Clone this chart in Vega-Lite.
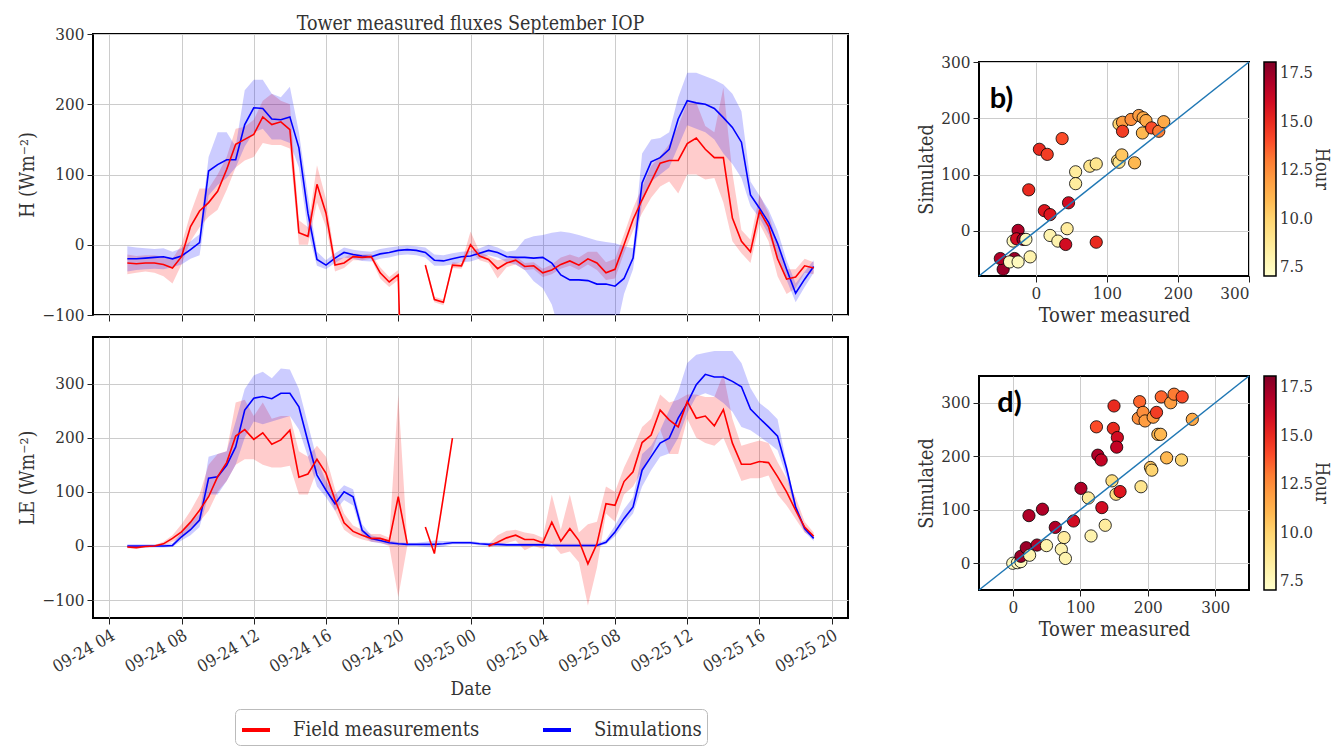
{
"$schema": "https://vega.github.io/schema/vega-lite/v6.json",
"background": "white",
"padding": {"left": 16, "top": 12, "right": 0, "bottom": 0},
"config": {
  "font": "DejaVu Serif Condensed, Liberation Serif, serif",
  "view": {"stroke": "black", "strokeWidth": 2},
  "axis": {"domain": false, "grid": true, "gridColor": "#cccccc", "gridWidth": 1, "tickColor": "#222222", "tickSize": 6, "labelColor": "#333333", "titleColor": "#333333", "labelFontSize": 17, "titleFontSize": 20, "titleFontWeight": "normal", "labelPadding": 3},
  "legend": {"layout": {"bottom": {"anchor": "middle"}}}
},
"datasets": {
"ts": [
{"t":"2020-09-24T05:00","Ho":-26,"Hol":-42,"Hoh":-14,"Hs":-20,"Hsl":-38,"Hsh":-2,"Lo":-2,"Lol":-4,"Loh":0,"Ls":0,"Lsl":-3,"Lsh":3},
{"t":"2020-09-24T05:30","Ho":-27,"Hol":-40,"Hoh":-16,"Hs":-20,"Hsl":-36,"Hsh":-4,"Lo":-3,"Lol":-5,"Loh":-1,"Ls":0,"Lsl":-3,"Lsh":3},
{"t":"2020-09-24T06:00","Ho":-26,"Hol":-38,"Hoh":-15,"Hs":-19,"Hsl":-35,"Hsh":-5,"Lo":-1,"Lol":-3,"Loh":1,"Ls":0,"Lsl":-3,"Lsh":3},
{"t":"2020-09-24T06:30","Ho":-26,"Hol":-40,"Hoh":-15,"Hs":-18,"Hsl":-34,"Hsh":-6,"Lo":0,"Lol":-2,"Loh":2,"Ls":0,"Lsl":-3,"Lsh":3},
{"t":"2020-09-24T07:00","Ho":-28,"Hol":-45,"Hoh":-17,"Hs":-17,"Hsl":-35,"Hsh":-5,"Lo":4,"Lol":1,"Loh":8,"Ls":0,"Lsl":-3,"Lsh":3},
{"t":"2020-09-24T07:30","Ho":-33,"Hol":-55,"Hoh":-20,"Hs":-20,"Hsl":-32,"Hsh":-10,"Lo":14,"Lol":8,"Loh":20,"Ls":1,"Lsl":-2,"Lsh":5},
{"t":"2020-09-24T08:00","Ho":-17,"Hol":-28,"Hoh":0,"Hs":-16,"Hsl":-28,"Hsh":-5,"Lo":26,"Lol":15,"Loh":40,"Ls":17,"Lsl":10,"Lsh":25},
{"t":"2020-09-24T08:30","Ho":26,"Hol":5,"Hoh":45,"Hs":-7,"Hsl":-20,"Hsh":5,"Lo":44,"Lol":30,"Loh":65,"Ls":30,"Lsl":20,"Lsh":45},
{"t":"2020-09-24T09:00","Ho":48,"Hol":25,"Hoh":80,"Hs":3,"Hsl":-15,"Hsh":15,"Lo":66,"Lol":45,"Loh":95,"Ls":48,"Lsl":35,"Lsh":60},
{"t":"2020-09-24T09:30","Ho":60,"Hol":40,"Hoh":80,"Hs":105,"Hsl":70,"Hsh":125,"Lo":91,"Lol":65,"Loh":150,"Ls":125,"Lsl":95,"Lsh":165},
{"t":"2020-09-24T10:00","Ho":76,"Hol":50,"Hoh":100,"Hs":114,"Hsl":85,"Hsh":160,"Lo":128,"Lol":100,"Loh":170,"Ls":128,"Lsl":95,"Lsh":170},
{"t":"2020-09-24T10:30","Ho":107,"Hol":78,"Hoh":125,"Hs":121,"Hsl":95,"Hsh":160,"Lo":154,"Lol":120,"Loh":175,"Ls":149,"Lsl":120,"Lsh":175},
{"t":"2020-09-24T11:00","Ho":143,"Hol":110,"Hoh":165,"Hs":121,"Hsl":110,"Hsh":140,"Lo":203,"Lol":150,"Loh":265,"Ls":183,"Lsl":150,"Lsh":230},
{"t":"2020-09-24T11:30","Ho":150,"Hol":120,"Hoh":168,"Hs":171,"Hsl":140,"Hsh":220,"Lo":215,"Lol":160,"Loh":270,"Ls":251,"Lsl":200,"Lsh":290},
{"t":"2020-09-24T12:00","Ho":157,"Hol":125,"Hoh":178,"Hs":195,"Hsl":160,"Hsh":235,"Lo":197,"Lol":160,"Loh":240,"Ls":273,"Lsl":230,"Lsh":315},
{"t":"2020-09-24T12:30","Ho":182,"Hol":145,"Hoh":205,"Hs":194,"Hsl":165,"Hsh":235,"Lo":209,"Lol":150,"Loh":265,"Ls":276,"Lsl":225,"Lsh":322},
{"t":"2020-09-24T13:00","Ho":171,"Hol":142,"Hoh":215,"Hs":179,"Hsl":150,"Hsh":215,"Lo":188,"Lol":145,"Loh":235,"Ls":272,"Lsl":230,"Lsh":310},
{"t":"2020-09-24T13:30","Ho":175,"Hol":142,"Hoh":205,"Hs":178,"Hsl":150,"Hsh":210,"Lo":196,"Lol":145,"Loh":240,"Ls":282,"Lsl":235,"Lsh":328},
{"t":"2020-09-24T14:00","Ho":164,"Hol":137,"Hoh":200,"Hs":182,"Hsl":145,"Hsh":225,"Lo":214,"Lol":148,"Loh":240,"Ls":282,"Lsl":240,"Lsh":326},
{"t":"2020-09-24T14:30","Ho":17,"Hol":0,"Hoh":35,"Hs":138,"Hsl":110,"Hsh":160,"Lo":127,"Lol":95,"Loh":175,"Ls":257,"Lsl":215,"Lsh":290},
{"t":"2020-09-24T15:00","Ho":12,"Hol":0,"Hoh":25,"Hs":45,"Hsl":20,"Hsh":70,"Lo":133,"Lol":95,"Loh":165,"Ls":193,"Lsl":165,"Lsh":225},
{"t":"2020-09-24T15:30","Ho":86,"Hol":60,"Hoh":113,"Hs":-21,"Hsl":-30,"Hsh":-10,"Lo":160,"Lol":140,"Loh":185,"Ls":131,"Lsl":110,"Lsh":160},
{"t":"2020-09-24T16:00","Ho":45,"Hol":25,"Hoh":65,"Hs":-29,"Hsl":-35,"Hsh":-22,"Lo":134,"Lol":105,"Loh":165,"Ls":103,"Lsl":90,"Lsh":120},
{"t":"2020-09-24T16:30","Ho":-29,"Hol":-38,"Hoh":-20,"Hs":-19,"Hsl":-26,"Hsh":-12,"Lo":85,"Lol":65,"Loh":105,"Ls":78,"Lsl":65,"Lsh":95},
{"t":"2020-09-24T17:00","Ho":-26,"Hol":-33,"Hoh":-18,"Hs":-11,"Hsl":-18,"Hsh":-4,"Lo":43,"Lol":30,"Loh":60,"Ls":100,"Lsl":85,"Lsh":112},
{"t":"2020-09-24T17:30","Ho":-17,"Hol":-22,"Hoh":-12,"Hs":-14,"Hsl":-20,"Hsh":-7,"Lo":27,"Lol":18,"Loh":38,"Ls":91,"Lsl":75,"Lsh":105},
{"t":"2020-09-24T18:00","Ho":-18,"Hol":-22,"Hoh":-14,"Hs":-16,"Hsl":-23,"Hsh":-9,"Lo":20,"Lol":12,"Loh":30,"Ls":29,"Lsl":20,"Lsh":40},
{"t":"2020-09-24T18:30","Ho":-17,"Hol":-20,"Hoh":-13,"Hs":-17,"Hsl":-24,"Hsh":-10,"Lo":14,"Lol":8,"Loh":22,"Ls":14,"Lsl":8,"Lsh":20},
{"t":"2020-09-24T19:00","Ho":-40,"Hol":-48,"Hoh":-32,"Hs":-13,"Hsl":-20,"Hsh":-6,"Lo":14,"Lol":6,"Loh":22,"Ls":10,"Lsl":5,"Lsh":15},
{"t":"2020-09-24T19:30","Ho":-53,"Hol":-60,"Hoh":-46,"Hs":-11,"Hsl":-18,"Hsh":-4,"Lo":9,"Lol":0,"Loh":15,"Ls":6,"Lsl":2,"Lsh":10},
{"t":"2020-09-24T20:00","Ho":-43,"Hol":-50,"Hoh":-36,"Hs":-8,"Hsl":-15,"Hsh":-2,"Lo":91,"Lol":-94,"Loh":279,"Ls":4,"Lsl":1,"Lsh":7},
{"t":"2020-09-24T20:30","Ho":-513,"Hol":null,"Hoh":null,"Hs":-7,"Hsl":-14,"Hsh":-1,"Lo":4,"Lol":0,"Loh":8,"Ls":3,"Lsl":0,"Lsh":6},
{"t":"2020-09-24T21:00","Ho":null,"Hol":null,"Hoh":null,"Hs":-8,"Hsl":-15,"Hsh":-2,"Lo":null,"Lol":null,"Loh":null,"Ls":3,"Lsl":0,"Lsh":6},
{"t":"2020-09-24T21:30","Ho":-29,"Hol":-33,"Hoh":-25,"Hs":-11,"Hsl":-18,"Hsh":-4,"Lo":35,"Lol":null,"Loh":null,"Ls":3,"Lsl":-2,"Lsh":8},
{"t":"2020-09-24T22:00","Ho":-78,"Hol":-82,"Hoh":-74,"Hs":-22,"Hsl":-30,"Hsh":-14,"Lo":-14,"Lol":null,"Loh":null,"Ls":3,"Lsl":-3,"Lsh":10},
{"t":"2020-09-24T22:30","Ho":-82,"Hol":-86,"Hoh":-78,"Hs":-23,"Hsl":-30,"Hsh":-15,"Lo":91,"Lol":null,"Loh":null,"Ls":4,"Lsl":-1,"Lsh":9},
{"t":"2020-09-24T23:00","Ho":-29,"Hol":-33,"Hoh":-25,"Hs":-20,"Hsl":-28,"Hsh":-12,"Lo":199,"Lol":null,"Loh":null,"Ls":6,"Lsl":3,"Lsh":9},
{"t":"2020-09-24T23:30","Ho":-30,"Hol":-34,"Hoh":-26,"Hs":-17,"Hsl":-25,"Hsh":-10,"Lo":null,"Lol":null,"Loh":null,"Ls":6,"Lsl":3,"Lsh":9},
{"t":"2020-09-25T00:00","Ho":0,"Hol":-8,"Hoh":19,"Hs":-16,"Hsl":-24,"Hsh":-9,"Lo":null,"Lol":null,"Loh":null,"Ls":6,"Lsl":3,"Lsh":9},
{"t":"2020-09-25T00:30","Ho":-16,"Hol":-22,"Hoh":-10,"Hs":-12,"Hsl":-20,"Hsh":-5,"Lo":null,"Lol":null,"Loh":null,"Ls":4,"Lsl":1,"Lsh":7},
{"t":"2020-09-25T01:00","Ho":-21,"Hol":-26,"Hoh":-16,"Hs":-8,"Hsl":-15,"Hsh":0,"Lo":0,"Lol":-3,"Loh":3,"Ls":3,"Lsl":0,"Lsh":6},
{"t":"2020-09-25T01:30","Ho":-34,"Hol":-48,"Hoh":-22,"Hs":-11,"Hsl":-18,"Hsh":-4,"Lo":7,"Lol":2,"Loh":20,"Ls":3,"Lsl":0,"Lsh":6},
{"t":"2020-09-25T02:00","Ho":-26,"Hol":-32,"Hoh":-20,"Hs":-17,"Hsl":-25,"Hsh":-10,"Lo":15,"Lol":5,"Loh":28,"Ls":2,"Lsl":0,"Lsh":5},
{"t":"2020-09-25T02:30","Ho":-22,"Hol":-28,"Hoh":-16,"Hs":-18,"Hsl":-28,"Hsh":-8,"Lo":20,"Lol":10,"Loh":30,"Ls":2,"Lsl":0,"Lsh":5},
{"t":"2020-09-25T03:00","Ho":-31,"Hol":-36,"Hoh":-26,"Hs":-18,"Hsl":-36,"Hsh":8,"Lo":12,"Lol":-8,"Loh":25,"Ls":2,"Lsl":0,"Lsh":5},
{"t":"2020-09-25T03:30","Ho":-30,"Hol":-35,"Hoh":-25,"Hs":-19,"Hsl":-52,"Hsh":12,"Lo":12,"Lol":0,"Loh":22,"Ls":2,"Lsl":0,"Lsh":5},
{"t":"2020-09-25T04:00","Ho":-40,"Hol":-46,"Hoh":-34,"Hs":-18,"Hsl":-62,"Hsh":14,"Lo":6,"Lol":-5,"Loh":15,"Ls":2,"Lsl":0,"Lsh":5},
{"t":"2020-09-25T04:30","Ho":-36,"Hol":-42,"Hoh":-28,"Hs":-26,"Hsl":-85,"Hsh":17,"Lo":44,"Lol":5,"Loh":95,"Ls":1,"Lsl":-1,"Lsh":4},
{"t":"2020-09-25T05:00","Ho":-28,"Hol":-34,"Hoh":-18,"Hs":-43,"Hsl":-130,"Hsh":19,"Lo":9,"Lol":-15,"Loh":30,"Ls":1,"Lsl":-1,"Lsh":4},
{"t":"2020-09-25T05:30","Ho":-23,"Hol":-30,"Hoh":-14,"Hs":-50,"Hsl":-150,"Hsh":17,"Lo":32,"Lol":-10,"Loh":95,"Ls":1,"Lsl":-1,"Lsh":4},
{"t":"2020-09-25T06:00","Ho":-29,"Hol":-36,"Hoh":-18,"Hs":-50,"Hsl":-150,"Hsh":14,"Lo":10,"Lol":-30,"Loh":25,"Ls":1,"Lsl":-1,"Lsh":4},
{"t":"2020-09-25T06:30","Ho":-20,"Hol":-28,"Hoh":-10,"Hs":-51,"Hsl":-150,"Hsh":10,"Lo":-33,"Lol":-110,"Loh":40,"Ls":1,"Lsl":-1,"Lsh":4},
{"t":"2020-09-25T07:00","Ho":-26,"Hol":-36,"Hoh":-10,"Hs":-56,"Hsl":-145,"Hsh":6,"Lo":4,"Lol":-40,"Loh":45,"Ls":1,"Lsl":-1,"Lsh":4},
{"t":"2020-09-25T07:30","Ho":-40,"Hol":-50,"Hoh":-25,"Hs":-56,"Hsl":-140,"Hsh":4,"Lo":78,"Lol":60,"Loh":110,"Ls":7,"Lsl":3,"Lsh":12},
{"t":"2020-09-25T08:00","Ho":-35,"Hol":-48,"Hoh":-20,"Hs":-59,"Hsl":-130,"Hsh":2,"Lo":75,"Lol":45,"Loh":100,"Ls":26,"Lsl":18,"Lsh":38},
{"t":"2020-09-25T08:30","Ho":0,"Hol":-12,"Hoh":15,"Hs":-48,"Hsl":-70,"Hsh":-2,"Lo":119,"Lol":95,"Loh":145,"Ls":51,"Lsl":40,"Lsh":68},
{"t":"2020-09-25T09:00","Ho":36,"Hol":20,"Hoh":52,"Hs":-19,"Hsl":-35,"Hsh":-5,"Lo":137,"Lol":110,"Loh":180,"Ls":72,"Lsl":60,"Lsh":90},
{"t":"2020-09-25T09:30","Ho":64,"Hol":45,"Hoh":82,"Hs":88,"Hsl":60,"Hsh":130,"Lo":191,"Lol":140,"Loh":220,"Ls":140,"Lsl":110,"Lsh":170},
{"t":"2020-09-25T10:00","Ho":90,"Hol":67,"Hoh":112,"Hs":118,"Hsl":90,"Hsh":150,"Lo":205,"Lol":170,"Loh":235,"Ls":165,"Lsl":140,"Lsh":185},
{"t":"2020-09-25T10:30","Ho":116,"Hol":83,"Hoh":126,"Hs":124,"Hsl":100,"Hsh":152,"Lo":251,"Lol":215,"Loh":280,"Ls":190,"Lsl":165,"Lsh":214},
{"t":"2020-09-25T11:00","Ho":120,"Hol":90,"Hoh":143,"Hs":136,"Hsl":110,"Hsh":160,"Lo":233,"Lol":170,"Loh":265,"Ls":199,"Lsl":171,"Lsh":251},
{"t":"2020-09-25T11:30","Ho":120,"Hol":73,"Hoh":169,"Hs":179,"Hsl":140,"Hsh":210,"Lo":220,"Lol":170,"Loh":270,"Ls":236,"Lsl":200,"Lsh":285},
{"t":"2020-09-25T12:00","Ho":144,"Hol":100,"Hoh":202,"Hs":205,"Hsl":170,"Hsh":245,"Lo":267,"Lol":235,"Loh":280,"Ls":264,"Lsl":245,"Lsh":338},
{"t":"2020-09-25T12:30","Ho":152,"Hol":100,"Hoh":202,"Hs":202,"Hsl":165,"Hsh":245,"Lo":236,"Lol":200,"Loh":280,"Ls":298,"Lsl":276,"Lsh":353},
{"t":"2020-09-25T13:00","Ho":136,"Hol":93,"Hoh":169,"Hs":200,"Hsl":160,"Hsh":240,"Lo":240,"Lol":190,"Loh":275,"Ls":317,"Lsl":282,"Lsh":357},
{"t":"2020-09-25T13:30","Ho":124,"Hol":95,"Hoh":160,"Hs":194,"Hsl":150,"Hsh":235,"Lo":222,"Lol":185,"Loh":275,"Ls":312,"Lsl":276,"Lsh":360},
{"t":"2020-09-25T14:00","Ho":124,"Hol":60,"Hoh":224,"Hs":181,"Hsl":130,"Hsh":228,"Lo":252,"Lol":200,"Loh":318,"Ls":312,"Lsl":264,"Lsh":360},
{"t":"2020-09-25T14:30","Ho":38,"Hol":5,"Hoh":102,"Hs":167,"Hsl":115,"Hsh":215,"Lo":190,"Lol":160,"Loh":235,"Ls":304,"Lsl":248,"Lsh":360},
{"t":"2020-09-25T15:00","Ho":5,"Hol":-12,"Hoh":21,"Hs":146,"Hsl":95,"Hsh":190,"Lo":151,"Lol":120,"Loh":185,"Ls":294,"Lsl":220,"Lsh":338},
{"t":"2020-09-25T15:30","Ho":-10,"Hol":-26,"Hoh":7,"Hs":71,"Hsl":55,"Hsh":90,"Lo":151,"Lol":125,"Loh":190,"Ls":253,"Lsl":214,"Lsh":292},
{"t":"2020-09-25T16:00","Ho":48,"Hol":30,"Hoh":71,"Hs":52,"Hsl":38,"Hsh":70,"Lo":156,"Lol":125,"Loh":195,"Ls":236,"Lsl":202,"Lsh":264},
{"t":"2020-09-25T16:30","Ho":26,"Hol":5,"Hoh":45,"Hs":32,"Hsl":15,"Hsh":50,"Lo":154,"Lol":130,"Loh":190,"Ls":220,"Lsl":190,"Lsh":251},
{"t":"2020-09-25T17:00","Ho":-20,"Hol":-45,"Hoh":0,"Hs":2,"Hsl":-20,"Hsh":20,"Lo":128,"Lol":95,"Loh":155,"Ls":203,"Lsl":177,"Lsh":234},
{"t":"2020-09-25T17:30","Ho":-49,"Hol":-70,"Hoh":-35,"Hs":-35,"Hsl":-50,"Hsh":-22,"Lo":100,"Lol":75,"Loh":125,"Ls":143,"Lsl":128,"Lsh":152},
{"t":"2020-09-25T18:00","Ho":-46,"Hol":-62,"Hoh":-35,"Hs":-69,"Hsl":-82,"Hsh":-55,"Lo":66,"Lol":50,"Loh":90,"Ls":72,"Lsl":63,"Lsh":78},
{"t":"2020-09-25T18:30","Ho":-30,"Hol":-40,"Hoh":-20,"Hs":-49,"Hsl":-60,"Hsh":-38,"Lo":35,"Lol":25,"Loh":45,"Ls":32,"Lsl":26,"Lsh":35},
{"t":"2020-09-25T19:00","Ho":-33,"Hol":-42,"Hoh":-25,"Hs":-31,"Hsl":-40,"Hsh":-22,"Lo":18,"Lol":15,"Loh":25,"Ls":14,"Lsl":9,"Lsh":17}
],
"hb": [
{"x":-46,"y":-68,"h":17.5},{"x":-50,"y":-49,"h":17},{"x":-30,"y":-49,"h":17.5},{"x":-37,"y":-55,"h":7.5},{"x":-25,"y":-55,"h":7.5},
{"x":-32,"y":-18,"h":7.5},{"x":-25,"y":1,"h":17},{"x":-27,"y":-14,"h":16},{"x":-18,"y":-15,"h":17.5},{"x":-14,"y":-15,"h":7.5},
{"x":-8,"y":-46,"h":8},{"x":-10,"y":73,"h":15},{"x":5,"y":145,"h":15},{"x":16,"y":136,"h":14.5},{"x":37,"y":164,"h":14},
{"x":12,"y":36,"h":15.5},{"x":20,"y":29,"h":15.5},{"x":46,"y":50,"h":16},{"x":20,"y":-8,"h":8},{"x":31,"y":-18,"h":8},
{"x":44,"y":4,"h":8.5},{"x":42,"y":-24,"h":16},{"x":85,"y":-20,"h":15},{"x":56,"y":105,"h":8.5},{"x":56,"y":84,"h":8.5},
{"x":76,"y":115,"h":9},{"x":85,"y":119,"h":9},{"x":115,"y":125,"h":9.5},{"x":117,"y":122,"h":9},{"x":121,"y":135,"h":10.5},
{"x":139,"y":121,"h":11},{"x":117,"y":190,"h":10},{"x":122,"y":193,"h":12},{"x":122,"y":177,"h":14.5},{"x":134,"y":198,"h":12.5},
{"x":145,"y":205,"h":12},{"x":151,"y":201,"h":11.5},{"x":155,"y":196,"h":11.5},{"x":150,"y":174,"h":11},{"x":163,"y":183,"h":14},
{"x":173,"y":177,"h":13},{"x":180,"y":194,"h":11.5}
],
"led": [
{"x":0,"y":0,"h":7.5},{"x":7,"y":1,"h":7.5},{"x":12,"y":3,"h":7.5},{"x":12,"y":13,"h":17.5},{"x":20,"y":29,"h":17.5},
{"x":25,"y":15,"h":8},{"x":24,"y":89,"h":17},{"x":36,"y":34,"h":17},{"x":50,"y":33,"h":8},{"x":44,"y":101,"h":17},
{"x":63,"y":67,"h":17},{"x":76,"y":48,"h":8.5},{"x":72,"y":26,"h":8},{"x":78,"y":9,"h":8},{"x":90,"y":79,"h":16},
{"x":101,"y":140,"h":17},{"x":112,"y":122,"h":8.5},{"x":116,"y":51,"h":8},{"x":132,"y":104,"h":16},{"x":137,"y":71,"h":8.5},
{"x":124,"y":255,"h":14},{"x":126,"y":202,"h":17},{"x":131,"y":193,"h":16.5},{"x":147,"y":154,"h":9.5},{"x":150,"y":294,"h":15},
{"x":149,"y":252,"h":15},{"x":155,"y":235,"h":16},{"x":154,"y":217,"h":16.5},{"x":153,"y":129,"h":9.5},{"x":159,"y":134,"h":15.5},
{"x":190,"y":143,"h":9},{"x":188,"y":302,"h":13.5},{"x":186,"y":271,"h":12.5},{"x":193,"y":282,"h":12.5},{"x":196,"y":266,"h":12},
{"x":204,"y":179,"h":10.5},{"x":206,"y":174,"h":10},{"x":208,"y":273,"h":12},{"x":213,"y":282,"h":14.5},{"x":215,"y":241,"h":11},
{"x":219,"y":241,"h":11},{"x":220,"y":311,"h":13.5},{"x":228,"y":197,"h":11},{"x":234,"y":300,"h":12},{"x":239,"y":316,"h":13},
{"x":250,"y":193,"h":10},{"x":251,"y":311,"h":14},{"x":266,"y":269,"h":11.5}
]
},
"hconcat": [
{
 "vconcat": [
  {
   "width": 755, "height": 281,
   "title": {"text": "Tower measured fluxes September IOP", "fontSize": 19.5, "fontWeight": "normal", "offset": -9, "frame": "group", "anchor": "middle", "color": "#333333"},
   "data": {"name": "ts"},
   "encoding": {"x": {"field": "t", "type": "temporal", "scale": {"domain": [{"year":2020,"month":9,"date":24,"hours":3,"minutes":6},{"year":2020,"month":9,"date":25,"hours":20,"minutes":54}]}, "axis": {"values": [{"year":2020,"month":9,"date":24,"hours":4},{"year":2020,"month":9,"date":24,"hours":8},{"year":2020,"month":9,"date":24,"hours":12},{"year":2020,"month":9,"date":24,"hours":16},{"year":2020,"month":9,"date":24,"hours":20},{"year":2020,"month":9,"date":25,"hours":0},{"year":2020,"month":9,"date":25,"hours":4},{"year":2020,"month":9,"date":25,"hours":8},{"year":2020,"month":9,"date":25,"hours":12},{"year":2020,"month":9,"date":25,"hours":16},{"year":2020,"month":9,"date":25,"hours":20}], "labels": false, "title": null}}},
   "layer": [
    {"mark": {"type": "area", "color": "red", "opacity": 0.2, "clip": true, "invalid": "break-paths-show-domains"},
     "encoding": {"y": {"field": "Hol", "type": "quantitative", "scale": {"domain": [-100, 300], "nice": false}, "axis": {"values": [-100, 0, 100, 200, 300], "title": "H (Wm⁻²)", "titleFontSize": 19.5}}, "y2": {"field": "Hoh"}}},
    {"mark": {"type": "area", "color": "blue", "opacity": 0.2, "clip": true, "invalid": "break-paths-show-domains"},
     "encoding": {"y": {"field": "Hsl", "type": "quantitative"}, "y2": {"field": "Hsh"}}},
    {"mark": {"type": "line", "strokeWidth": 1.6, "clip": true, "invalid": "break-paths-show-domains"},
     "encoding": {"y": {"field": "Hs", "type": "quantitative"}, "color": {"datum": "Simulations", "type": "nominal", "scale": {"domain": ["Field measurements", "Simulations"], "range": ["#ff0000", "#0000ff"]}, "legend": null}}},
    {"mark": {"type": "line", "strokeWidth": 1.6, "clip": true, "invalid": "break-paths-show-domains"},
     "encoding": {"y": {"field": "Ho", "type": "quantitative"}, "color": {"datum": "Field measurements", "type": "nominal"}}},
    {"data": {"values": [{}]}, "mark": {"type": "text", "text": "a)", "font": "Lato", "fontWeight": "bold", "fontSize": 29, "align": "left", "baseline": "middle", "color": "black"},
     "encoding": {"x": {"datum": {"year":2020,"month":9,"date":24,"hours":5,"minutes":4}, "type": "temporal"}, "y": {"datum": 244, "type": "quantitative"}}}
   ]
  },
  {
   "width": 755, "height": 281,
   "data": {"name": "ts"},
   "encoding": {"x": {"field": "t", "type": "temporal", "scale": {"domain": [{"year":2020,"month":9,"date":24,"hours":3,"minutes":6},{"year":2020,"month":9,"date":25,"hours":20,"minutes":54}]}, "axis": {"values": [{"year":2020,"month":9,"date":24,"hours":4},{"year":2020,"month":9,"date":24,"hours":8},{"year":2020,"month":9,"date":24,"hours":12},{"year":2020,"month":9,"date":24,"hours":16},{"year":2020,"month":9,"date":24,"hours":20},{"year":2020,"month":9,"date":25,"hours":0},{"year":2020,"month":9,"date":25,"hours":4},{"year":2020,"month":9,"date":25,"hours":8},{"year":2020,"month":9,"date":25,"hours":12},{"year":2020,"month":9,"date":25,"hours":16},{"year":2020,"month":9,"date":25,"hours":20}], "format": "%m-%d %H", "labelAngle": -30, "title": "Date", "titleFontSize": 19}}},
   "layer": [
    {"mark": {"type": "area", "color": "red", "opacity": 0.2, "clip": true, "invalid": "break-paths-show-domains"},
     "encoding": {"y": {"field": "Lol", "type": "quantitative", "scale": {"domain": [-133, 386], "nice": false}, "axis": {"values": [-100, 0, 100, 200, 300], "title": "LE (Wm⁻²)", "titleFontSize": 19.5}}, "y2": {"field": "Loh"}}},
    {"mark": {"type": "area", "color": "blue", "opacity": 0.2, "clip": true, "invalid": "break-paths-show-domains"},
     "encoding": {"y": {"field": "Lsl", "type": "quantitative"}, "y2": {"field": "Lsh"}}},
    {"mark": {"type": "line", "strokeWidth": 1.6, "clip": true, "invalid": "break-paths-show-domains"},
     "encoding": {"y": {"field": "Ls", "type": "quantitative"}, "color": {"datum": "Simulations", "type": "nominal", "scale": {"domain": ["Field measurements", "Simulations"], "range": ["#ff0000", "#0000ff"]},
       "legend": {"orient": "bottom", "direction": "horizontal", "title": null, "symbolType": "stroke", "symbolStrokeWidth": 4, "symbolSize": 784, "labelFontSize": 20, "labelLimit": 0, "labelColor": "#333333", "strokeColor": "#bbbbbb", "cornerRadius": 5, "padding": 5, "columnPadding": 55, "labelOffset": 21, "offset": 10}}}},
    {"mark": {"type": "line", "strokeWidth": 1.6, "clip": true, "invalid": "break-paths-show-domains"},
     "encoding": {"y": {"field": "Lo", "type": "quantitative"}, "color": {"datum": "Field measurements", "type": "nominal"}}},
    {"data": {"values": [{}]}, "mark": {"type": "text", "text": "c)", "font": "Lato", "fontWeight": "bold", "fontSize": 29, "align": "left", "baseline": "middle", "color": "black"},
     "encoding": {"x": {"datum": {"year":2020,"month":9,"date":24,"hours":5,"minutes":4}, "type": "temporal"}, "y": {"datum": 298, "type": "quantitative"}}}
   ]
  }
 ],
 "spacing": 12,
 "resolve": {"scale": {"color": "independent"}}
},
{
 "vconcat": [
  {"width": 10, "height": 18, "data": {"values": []}, "mark": "point", "view": {"stroke": null}},
  {
   "vconcat": [
    {
     "width": 270, "height": 214,
     "layer": [
      {"data": {"name": "hb"}, "mark": {"type": "point", "filled": true, "size": 150, "stroke": "black", "strokeWidth": 0.8, "opacity": 1},
       "encoding": {
        "x": {"field": "x", "type": "quantitative", "scale": {"domain": [-80, 300], "nice": false}, "axis": {"values": [0, 100, 200, 300], "title": "Tower measured"}},
        "y": {"field": "y", "type": "quantitative", "scale": {"domain": [-80, 300], "nice": false}, "axis": {"values": [0, 100, 200, 300], "title": "Simulated", "titleFontSize": 19.5}},
        "color": {"field": "h", "type": "quantitative", "scale": {"domain": [7.05, 18.08], "range": ["#ffffcc", "#ffeda0", "#fed976", "#feb24c", "#fd8d3c", "#fc4e2a", "#e31a1c", "#bd0026", "#800026"]},
          "legend": {"orient": "right", "title": "Hour", "titleOrient": "right", "titleAngle": 270, "titleFontSize": 18, "titleFontWeight": "normal", "titleColor": "#333333", "titleAnchor": "middle", "titlePadding": -1, "gradientLength": 214, "gradientThickness": 12, "gradientStrokeColor": "black", "gradientStrokeWidth": 1.5, "values": [7.5, 10, 12.5, 15, 17.5], "format": ".1f", "labelFontSize": 16.5, "labelColor": "#333333", "labelOffset": 4, "labelOverlap": false, "offset": 15}}
       }},
      {"data": {"values": [{}]}, "mark": {"type": "rule", "color": "#1f77b4", "strokeWidth": 1.5},
       "encoding": {"x": {"datum": -80}, "y": {"datum": -80}, "x2": {"datum": 300}, "y2": {"datum": 300}}},
      {"data": {"values": [{}]}, "mark": {"type": "text", "text": "b)", "font": "Lato", "fontWeight": "bold", "fontSize": 29, "align": "left", "baseline": "middle", "color": "black"},
       "encoding": {"x": {"datum": -65}, "y": {"datum": 234}}}
     ]
    },
    {
     "width": 270, "height": 214,
     "layer": [
      {"data": {"name": "led"}, "mark": {"type": "point", "filled": true, "size": 150, "stroke": "black", "strokeWidth": 0.8, "opacity": 1},
       "encoding": {
        "x": {"field": "x", "type": "quantitative", "scale": {"domain": [-50, 350], "nice": false}, "axis": {"values": [0, 100, 200, 300], "title": "Tower measured"}},
        "y": {"field": "y", "type": "quantitative", "scale": {"domain": [-50, 350], "nice": false}, "axis": {"values": [0, 100, 200, 300], "title": "Simulated", "titleFontSize": 19.5}},
        "color": {"field": "h", "type": "quantitative", "scale": {"domain": [7.05, 18.08], "range": ["#ffffcc", "#ffeda0", "#fed976", "#feb24c", "#fd8d3c", "#fc4e2a", "#e31a1c", "#bd0026", "#800026"]},
          "legend": {"orient": "right", "title": "Hour", "titleOrient": "right", "titleAngle": 270, "titleFontSize": 18, "titleFontWeight": "normal", "titleColor": "#333333", "titleAnchor": "middle", "titlePadding": -1, "gradientLength": 214, "gradientThickness": 12, "gradientStrokeColor": "black", "gradientStrokeWidth": 1.5, "values": [7.5, 10, 12.5, 15, 17.5], "format": ".1f", "labelFontSize": 16.5, "labelColor": "#333333", "labelOffset": 4, "labelOverlap": false, "offset": 15}}
       }},
      {"data": {"values": [{}]}, "mark": {"type": "rule", "color": "#1f77b4", "strokeWidth": 1.5},
       "encoding": {"x": {"datum": -50}, "y": {"datum": -50}, "x2": {"datum": 350}, "y2": {"datum": 350}}},
      {"data": {"values": [{}]}, "mark": {"type": "text", "text": "d)", "font": "Lato", "fontWeight": "bold", "fontSize": 29, "align": "left", "baseline": "middle", "color": "black"},
       "encoding": {"x": {"datum": -23}, "y": {"datum": 299}}}
     ]
    }
   ],
   "spacing": 48,
   "resolve": {"scale": {"color": "independent"}}
  }
 ],
 "spacing": 0,
 "resolve": {"scale": {"color": "independent"}}
}
],
"spacing": 66,
"resolve": {"scale": {"color": "independent"}}
}
